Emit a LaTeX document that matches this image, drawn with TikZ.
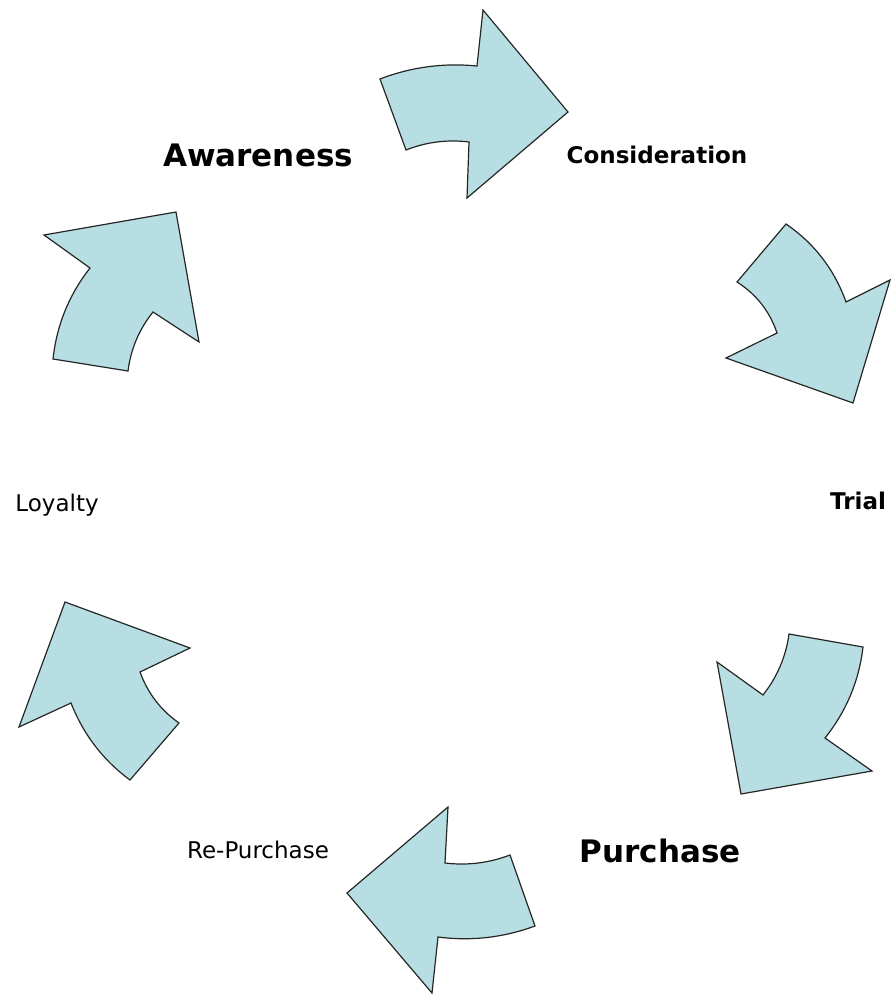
\documentclass[tikz,border=0pt]{standalone}
\usepackage{fontspec}
\setmainfont{DejaVu Sans}
\definecolor{arrowfill}{RGB}{183,223,227}
\begin{document}
\begin{tikzpicture}[x=1pt,y=-1pt,
  cyclearrow/.style={fill=arrowfill,draw=black!85,line width=1.2pt,line join=miter},
  stagebig/.style={inner sep=0,anchor=base,font=\fontsize{31}{36}\selectfont\bfseries},
  stagebold/.style={inner sep=0,anchor=base,font=\fontsize{23}{28}\selectfont\bfseries},
  stage/.style={inner sep=0,anchor=base,font=\fontsize{23}{28}\selectfont}]

\useasboundingbox (0,0) rectangle (891,995);

% arrows, clockwise from the top
\draw [cyclearrow] (380,79) .. controls (411.3,67) and (443.7,62.7) .. (477,66) -- (483,10) -- (568,112) -- (467,198) -- (469,142) .. controls (447.3,139.3) and (426.3,142) .. (406,150) -- cycle;
\draw [cyclearrow] (786,224) .. controls (814.4,243.5) and (834.4,269.5) .. (846,302) -- (890,280) -- (853,403) -- (726,358) -- (777,333) .. controls (769.7,311.3) and (756.3,294.3) .. (737,282) -- cycle;
\draw [cyclearrow] (789,634) -- (863,647) .. controls (859,681) and (846.3,711.3) .. (825,738) -- (872,771) -- (741,794) -- (717,662) -- (763,695) .. controls (777.2,677) and (785.9,656.7) .. (789,634) -- cycle;
\draw [cyclearrow] (510,855) .. controls (489,863) and (467.3,865.7) .. (445,863) -- (448,807) -- (347,893) -- (432,993) -- (438,937) .. controls (471.2,941.3) and (503.5,937.6) .. (535,926) -- cycle;
\draw [cyclearrow] (179,723) .. controls (160.7,710.1) and (147.7,693.1) .. (140,672) -- (190,648) -- (65,602) -- (19,727) -- (71,703) .. controls (83.3,734.3) and (102.9,760) .. (130,780) -- cycle;
\draw [cyclearrow] (53,359) .. controls (56.7,325.1) and (69,294.8) .. (90,268) -- (44,235) -- (176,212) -- (199,342) -- (153,312) .. controls (139.1,329.3) and (130.8,349) .. (128,371) -- cycle;

% stages
\node [stagebig]  (awareness)     at (258,167) {Awareness};
\node [stagebold] (consideration) at (657,164) {Consideration};
\node [stagebold] (trial)         at (858,509) {Trial};
\node [stagebig]  (purchase)      at (660,862) {Purchase};
\node [stage]     (repurchase)    at (258,858) {Re-Purchase};
\node [stage]     (loyalty)       at (57,511)  {Loyalty};

\end{tikzpicture}
\end{document}
